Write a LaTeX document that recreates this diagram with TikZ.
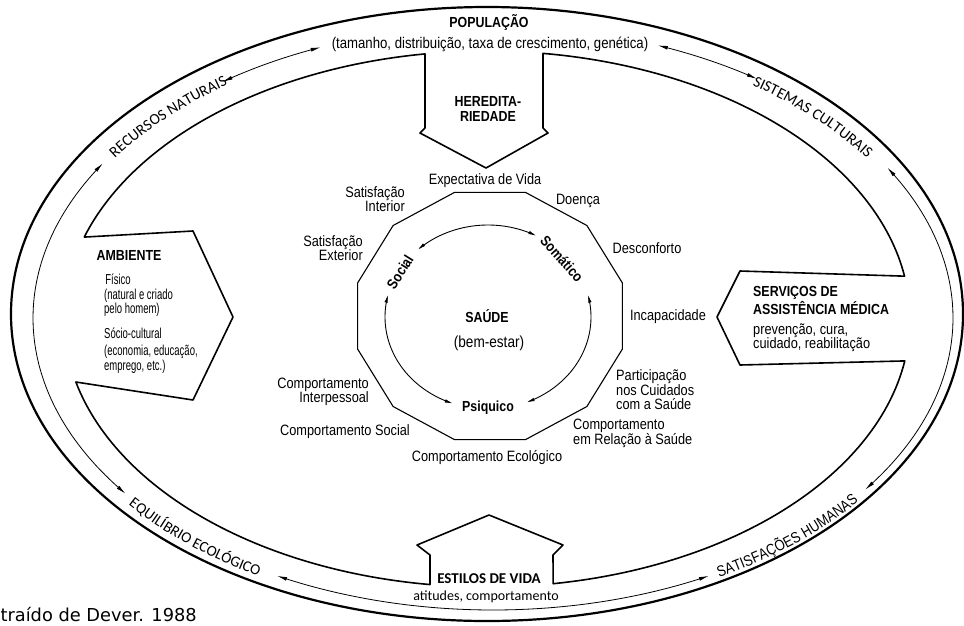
\documentclass[tikz,border=0pt]{standalone}
\usepackage{fontspec}
\setmainfont{Liberation Sans}[FakeStretch=0.85]
\newfontfamily\narr{Liberation Sans}[FakeStretch=0.66]
\newfontfamily\carl{Carlito}
\newfontfamily\djv{DejaVu Sans}
\usetikzlibrary{arrows.meta,decorations.text}
\newcommand\myfs[2]{\fontsize{#1}{#2}\selectfont}
\begin{document}
\begin{tikzpicture}[x=1pt,y=-1pt,
  tx/.style={inner sep=0pt,font=\myfs{15}{14.5}},
  sm/.style={inner sep=0pt,font=\narr\myfs{14.4}{14.5}},
  bx/.style={inner sep=0pt,font=\bfseries\myfs{14.6}{15}},
  band/.style={line width=0.8pt,{Latex[length=10pt,width=3.8pt]}-{Latex[length=10pt,width=3.8pt]}},
  circ/.style={line width=0.9pt,{Latex[length=8pt,width=3.4pt]}-{Latex[length=8pt,width=3.4pt]}},
  rim/.style={line width=1.6pt,line join=round},
  outerrim/.style={line width=2.2pt}]
\useasboundingbox (0,0) rectangle (964,625);
\clip (0,0) rectangle (964,625);
\fill[white] (0,0) rectangle (964,625);

% outer ellipse
\draw[outerrim] (487,314) ellipse [x radius=476, y radius=307];

% inner rim with the four block arrows
\draw[rim] plot[domain=-162.2:-98.43,samples=60] ({487+423*cos(\x)},{319+268*sin(\x)})
  -- (425,128) -- (420,133) -- (486,168) -- (548,133) -- (543,128)
  -- plot[domain=-82.39:-9.2,samples=60] ({487+423*cos(\x)},{319+268*sin(\x)})
  -- (740,271) -- (717,317) -- (740,365)
  -- plot[domain=9:81,samples=60] ({487+423*cos(\x)},{319+268*sin(\x)})
  -- (553,555) -- (563,545) -- (489,515) -- (417,545) -- (430,555)
  -- plot[domain=97.75:166.4,samples=60] ({487+423*cos(\x)},{319+268*sin(\x)})
  -- (193,400) -- (233,317) -- (193,231) -- cycle;

% double arrows in the band
\draw[band] plot[domain=-126:-112,samples=30] ({493+460*cos(\x)},{318+292*sin(\x)});
\draw[band] plot[domain=143:212,samples=80] ({493+460*cos(\x)},{318+292*sin(\x)});
\draw[band] plot[domain=62:118,samples=70] ({493+460*cos(\x)},{318+292*sin(\x)});
\draw[band] plot[domain=-31:36,samples=80] ({493+460*cos(\x)},{318+292*sin(\x)});
\draw[band] plot[domain=-69:-55,samples=30] ({493+460*cos(\x)},{318+292*sin(\x)});

% curved band labels
\path[decorate,decoration={text along path,text align=center,
  text={|\carl\myfs{15.5}{15}|RECURSOS NATURAIS}}]
  plot[domain=-157:-117,samples=80] ({493+455*cos(\x)},{318+287*sin(\x)});
\path[decorate,decoration={text along path,text align=center,
  text={|\carl\myfs{15.5}{15}|SISTEMAS CULTURAIS}}]
  plot[domain=-63.5:-23.5,samples=80] ({493+452*cos(\x)},{318+284*sin(\x)});
\path[decorate,decoration={text along path,text align=center,
  text={|\carl\myfs{15.2}{15}|EQUILÍBRIO ECOLÓGICO}}]
  plot[domain=-150:-113,samples=80] ({493+467*cos(-\x)},{318+299*sin(-\x)});
\path[decorate,decoration={text along path,text align=center,
  text={|\myfs{15.3}{15}|SATISFAÇÕES HUMANAS}}]
  plot[domain=-66:-32,samples=80] ({493+465*cos(-\x)},{318+297*sin(-\x)});

% dodecagon
\draw[line width=1.1pt,line join=round] plot[domain=15:345,samples=12] ({490+137*cos(\x)},{316+128*sin(\x)}) -- cycle;

% inner circle arrows
\draw[circ] plot[domain=-133:-62,samples=50] ({488+103*cos(\x)},{317+92*sin(\x)});
\draw[circ] plot[domain=-14:68,samples=50] ({488+103*cos(\x)},{317+92*sin(\x)});
\draw[circ] plot[domain=110:194,samples=50] ({488+103*cos(\x)},{317+92*sin(\x)});

% top labels
\node[bx] (pop) at (489,23) {POPULAÇÃO};
\node[tx,font=\myfs{15.5}{15}] (popsub) at (490,44) {(tamanho, distribuição, taxa de crescimento, genética)};
\node[bx,align=center] (hered) at (488,109) {HEREDITA-\\RIEDADE};

% left block
\node[bx] (amb) at (129,255) {AMBIENTE};
\node[sm] (fis) at (118,279) {Físico};
\node[sm,anchor=west,align=left] (nat) at (104,303) {(natural e criado\\pelo homem)};
\node[sm,anchor=west] (soc) at (104,333) {Sócio-cultural};
\node[sm,anchor=west,align=left] (econ) at (104,359.5) {(economia, educação,\\emprego, etc.)};

% right block
\node[bx,anchor=west,align=left] (serv) at (753,300.5) {SERVIÇOS DE\\ASSISTÊNCIA MÉDICA};
\node[tx,anchor=west,align=left] (prev) at (753,337.5) {prevenção, cura,\\cuidado, reabilitação};

% bottom block
\node[inner sep=0pt,font=\carl\bfseries\myfs{15}{15}] (est) at (489,579) {ESTILOS DE VIDA};
\node[inner sep=0pt,font=\carl\myfs{14}{15}] (atit) at (486,597) {atitudes, comportamento};

% labels round the dodecagon
\node[tx] (expv) at (485,181) {Expectativa de Vida};
\node[tx,anchor=east,align=right] (satint) at (405,199) {Satisfação\\Interior};
\node[tx] (doenca) at (578,201) {Doença};
\node[tx,anchor=east,align=right] (satext) at (363,248) {Satisfação\\Exterior};
\node[tx] (descon) at (647,248) {Desconforto};
\node[tx] (incap) at (668,317) {Incapacidade};
\node[tx,anchor=west,align=left] (partic) at (616,390) {Participação\\nos Cuidados\\com a Saúde};
\node[tx,anchor=east,align=right] (compint) at (369,392) {Comportamento\\Interpessoal};
\node[tx] (compsoc) at (345,432) {Comportamento Social};
\node[tx,anchor=west,align=left] (comprel) at (573,433.5) {Comportamento\\em Relação à Saúde};
\node[tx] (compeco) at (487,458) {Comportamento Ecológico};

% centre
\node[bx] (saude) at (487,316) {SAÚDE};
\node[tx,font=\myfs{16}{16}] (bem) at (489,343) {(bem-estar)};
\node[bx] (psiq) at (488,408) {Psiquico};
\node[bx,rotate=58] (socl) at (400,272) {Social};
\node[bx,rotate=-48] (somat) at (562,259) {Somático};

% source
\node[inner sep=0pt,font=\djv\myfs{17.8}{18},anchor=base east] (src) at (197,621) {Extraído de Dever. 1988};
\end{tikzpicture}
\end{document}
